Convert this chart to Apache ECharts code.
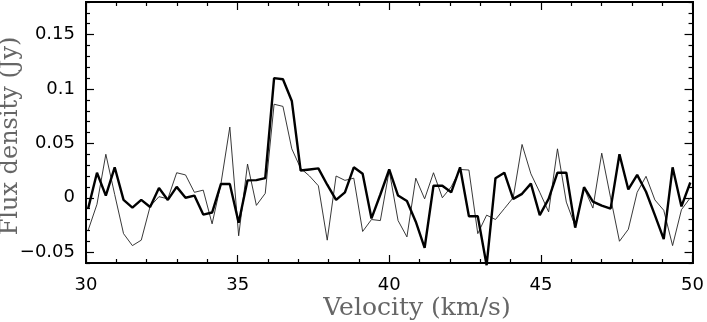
<!DOCTYPE html>
<html>
<head>
<meta charset="utf-8">
<script src="https://cdn.jsdelivr.net/npm/echarts@6/dist/echarts.min.js"></script>
<style>
html,body{margin:0;padding:0;background:#fff;}
#chart{width:707px;height:322px;}
</style>
</head>
<body>
<div id="chart"></div>
<script>
// Velocity channels (km/s)
const velocity = [30.070,30.362,30.654,30.946,31.238,31.530,31.822,32.114,32.406,32.698,
  32.990,33.282,33.574,33.866,34.158,34.450,34.742,35.034,35.326,35.618,
  35.910,36.202,36.494,36.786,37.078,37.370,37.662,37.954,38.246,38.538,
  38.830,39.122,39.414,39.706,39.998,40.290,40.582,40.874,41.166,41.458,
  41.750,42.042,42.334,42.626,42.918,43.210,43.502,43.794,44.086,44.378,
  44.670,44.962,45.254,45.546,45.838,46.130,46.422,46.714,47.006,47.298,
  47.590,47.882,48.174,48.466,48.758,49.050,49.342,49.634,49.926];
// Flux density (Jy), thick spectrum
const fluxThick = [-0.010,0.023,0.002,0.028,-0.002,-0.009,-0.002,-0.0085,0.009,-0.002,
  0.010,0.000,0.002,-0.0155,-0.0136,0.0127,0.0127,-0.023,0.016,0.0162,
  0.018,0.110,0.109,0.089,0.025,0.026,0.027,0.012,-0.002,0.005,
  0.028,0.022,-0.019,0.003,0.026,0.002,-0.003,-0.022,-0.046,0.011,
  0.011,0.005,0.028,-0.017,-0.017,-0.062,0.018,0.023,-0.001,0.0036,
  0.013,-0.016,-0.001,0.023,0.023,-0.0275,0.0097,-0.0035,-0.0073,-0.010,
  0.040,0.0076,0.021,0.0055,-0.016,-0.038,0.028,-0.008,0.014];
// Flux density (Jy), thin spectrum
const fluxThin = [-0.030,-0.006,0.040,0.003,-0.033,-0.044,-0.039,-0.008,0.001,-0.001,
  0.023,0.021,0.005,0.007,-0.024,0.013,0.065,-0.035,0.031,-0.007,
  0.004,0.086,0.084,0.045,0.027,0.020,0.011,-0.039,0.020,0.016,
  0.018,-0.031,-0.020,-0.021,0.025,-0.021,-0.036,0.018,-0.001,0.023,
  0.000,0.010,0.026,0.0255,-0.033,-0.016,-0.020,-0.010,0.000,0.049,
  0.022,0.005,-0.013,0.045,-0.004,-0.026,0.009,-0.0095,0.041,0.000,
  -0.040,-0.029,0.005,0.0197,-0.002,-0.0115,-0.044,-0.011,0.000];
// Tick values and labels
const xMajorTicks = [30, 35, 40, 45, 50];
const xMinorTicks = [31,32,33,34,36,37,38,39,41,42,43,44,46,47,48,49];
const yMajorTicks = [-0.05, 0, 0.05, 0.1, 0.15];
const yMajorLabels = ['\u22120.05', '0', '0.05', '0.1', '0.15'];
const yMinorTicks = [-0.06,-0.04,-0.03,-0.02,-0.01,0.01,0.02,0.03,0.04,0.06,0.07,0.08,0.09,
  0.11,0.12,0.13,0.14,0.16,0.17,0.18];
const xLabel = 'Velocity (km/s)';
const yLabel = 'Flux density (Jy)';

const chart = echarts.init(document.getElementById('chart'), null, {renderer: 'canvas'});
const tickFont = {fontFamily: 'DejaVu Sans', fontSize: 18, color: '#000'};

function xAx(pos, vals, len, showLabel) {
  return {
    type: 'value', position: pos, min: 30, max: 50, interval: 5,
    axisLine: {show: true, onZero: false, lineStyle: {color: '#000', width: 2}},
    axisTick: {show: true, inside: true, length: len, customValues: vals, lineStyle: {color: '#000', width: 1.2}},
    axisLabel: Object.assign({show: showLabel, margin: 13, customValues: xMajorTicks}, tickFont),
    splitLine: {show: false}
  };
}
function yAx(pos, vals, len, showLabel) {
  return {
    type: 'value', position: pos, min: -0.06, max: 0.18,
    axisLine: {show: true, onZero: false, lineStyle: {color: '#000', width: 2}},
    axisTick: {show: true, inside: true, length: len, customValues: vals, lineStyle: {color: '#000', width: 1.2}},
    axisLabel: Object.assign({show: showLabel, margin: 11, customValues: yMajorTicks,
      formatter: function (v) {
        const i = yMajorTicks.findIndex(t => Math.abs(t - v) < 1e-9);
        return i >= 0 ? yMajorLabels[i] : '';
      }}, tickFont),
    splitLine: {show: false}
  };
}

chart.setOption({
  animation: false,
  backgroundColor: '#fff',
  grid: {left: 86, right: 10, top: 2, bottom: 59},
  xAxis: [
    xAx('bottom', xMajorTicks, 8, true),
    xAx('bottom', xMinorTicks, 4, false),
    xAx('top', xMajorTicks, 8, false),
    xAx('top', xMinorTicks, 4, false)
  ],
  yAxis: [
    yAx('left', yMajorTicks, 8, true),
    yAx('left', yMinorTicks, 4, false),
    yAx('right', yMajorTicks, 8, false),
    yAx('right', yMinorTicks, 4, false)
  ],
  series: [
    {type: 'line', xAxisIndex: 0, yAxisIndex: 0, data: velocity.map((v, i) => [v, fluxThin[i]]),
     showSymbol: false, clip: false, lineStyle: {color: '#222', width: 0.9}},
    {type: 'line', xAxisIndex: 0, yAxisIndex: 0, data: velocity.map((v, i) => [v, fluxThick[i]]),
     showSymbol: false, clip: false, lineStyle: {color: '#000', width: 2.4}}
  ],
  graphic: [
    {type: 'text', x: 417, y: 308, style: {text: xLabel, font: '25px "DejaVu Serif"', fill: '#666', align: 'center', verticalAlign: 'middle'}},
    {type: 'text', x: 11, y: 136, rotation: Math.PI / 2, style: {text: yLabel, font: '24px "DejaVu Serif"', fill: '#666', align: 'center', verticalAlign: 'middle'}}
  ]
});
</script>
</body>
</html>
